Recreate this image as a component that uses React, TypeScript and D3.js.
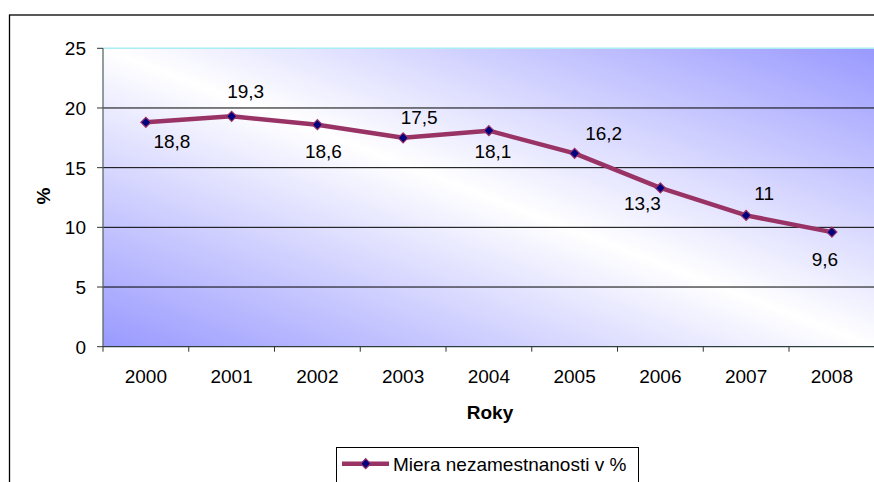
import React from "react";
import * as d3 from "d3";

const years = ["2000", "2001", "2002", "2003", "2004", "2005", "2006", "2007", "2008"];
const values = [18.8, 19.3, 18.6, 17.5, 18.1, 16.2, 13.3, 11, 9.6];
const valueLabels = ["18,8", "19,3", "18,6", "17,5", "18,1", "16,2", "13,3", "11", "9,6"];
const yTicks = [0, 5, 10, 15, 20, 25];
const seriesName = "Miera nezamestnanosti v %";
const xTitle = "Roky";
const yTitle = "%";

// layout: data-label offsets (px) relative to each point
const labelOffsets: [number, number][] = [
  [26, 19], [14, -25], [6, 26], [16, -21], [4, 21], [29, -20], [-18, 15], [18, -22], [-7, 27],
];

const W = 874;
const H = 482;
const plotLeft = 103;
const plotTop = 48.3;
const plotBottom = 346.7;
const bandW = 85.75;
const plotRight = plotLeft + bandW * years.length;
const FONT = "'Liberation Sans', Arial, Helvetica, sans-serif";
const LINE = "#993366";
const MARK = "#000080";

export default function App() {
  const x = d3.scaleBand<string>().domain(years).range([plotLeft, plotRight]).padding(0);
  const y = d3.scaleLinear().domain([0, 25]).range([plotBottom, plotTop]);
  const cx = (yr: string) => (x(yr) as number) + x.bandwidth() / 2;
  const line = d3
    .line<number>()
    .x((_, i) => cx(years[i]))
    .y((v) => y(v));
  const diamond = (px: number, py: number, r: number) =>
    `M${px},${py - r}L${px + r},${py}L${px},${py + r}L${px - r},${py}Z`;

  return (
    <svg
      width={W}
      height={H}
      style={{ position: "absolute", left: 0, top: 0, display: "block", background: "#fff" }}
      fontFamily={FONT}
    >
      <defs>
        <linearGradient id="bg" x1="0" y1="1" x2="1" y2="0">
          <stop offset="0" stopColor="#9999ff" />
          <stop offset="0.5" stopColor="#ffffff" />
          <stop offset="1" stopColor="#9999ff" />
        </linearGradient>
      </defs>
      {/* chart area border */}
      <rect x={9.5} y={15} width={W + 20} height={H + 20} fill="#fff" stroke="#000" strokeWidth={1.3} />
      {/* plot area */}
      <rect
        x={plotLeft}
        y={plotTop}
        width={plotRight - plotLeft}
        height={plotBottom - plotTop}
        fill="url(#bg)"
      />
      <line x1={plotLeft} x2={plotRight} y1={plotTop} y2={plotTop} stroke="#a8eef2" strokeWidth={1.5} />
      {/* gridlines */}
      {yTicks.filter((t) => t > 0 && t < 25).map((t) => (
        <line key={t} x1={plotLeft} x2={plotRight} y1={y(t)} y2={y(t)} stroke="#000" strokeWidth={1} />
      ))}
      {/* y axis */}
      <line x1={plotLeft} x2={plotLeft} y1={plotTop} y2={plotBottom} stroke="#5a6a6a" strokeWidth={1.3} />
      {yTicks.map((t) => (
        <g key={t}>
          <line x1={plotLeft - 6} x2={plotLeft} y1={y(t)} y2={y(t)} stroke="#333" strokeWidth={1} />
          <text x={86} y={y(t)} dy="0.36em" textAnchor="end" fontSize={19} fill="#000">
            {t}
          </text>
        </g>
      ))}
      {/* x axis */}
      <line x1={plotLeft} x2={plotRight} y1={plotBottom} y2={plotBottom} stroke="#2f3f3f" strokeWidth={1.3} />
      {years.map((yr, i) => (
        <g key={yr}>
          <line
            x1={(x(yr) as number)}
            x2={(x(yr) as number)}
            y1={plotBottom}
            y2={plotBottom + 5}
            stroke="#333"
            strokeWidth={1}
          />
          <text x={cx(yr)} y={375.7} dy="0.36em" textAnchor="middle" fontSize={19} fill="#000">
            {yr}
          </text>
        </g>
      ))}
      {/* axis titles */}
      <text x={490} y={412} dy="0.36em" textAnchor="middle" fontSize={19} fontWeight="bold">
        {xTitle}
      </text>
      <text
        transform={`translate(43,196) rotate(-90)`}
        dy="0.36em"
        textAnchor="middle"
        fontSize={19}
        fontWeight="bold"
      >
        {yTitle}
      </text>
      {/* series */}
      <path d={line(values) as string} fill="none" stroke={LINE} strokeWidth={4.5} strokeLinejoin="round" />
      {values.map((v, i) => (
        <path key={i} d={diamond(cx(years[i]), y(v), 5)} fill={MARK} stroke={LINE} strokeWidth={1.2} />
      ))}
      {values.map((v, i) => (
        <text
          key={"l" + i}
          x={cx(years[i]) + labelOffsets[i][0]}
          y={y(v) + labelOffsets[i][1]}
          dy="0.36em"
          textAnchor="middle"
          fontSize={19}
          fill="#000"
        >
          {valueLabels[i]}
        </text>
      ))}
      {/* legend */}
      <rect x={336.5} y={447.5} width={302} height={50} fill="#fff" stroke="#000" strokeWidth={1} />
      <line x1={342} x2={389} y1={463.7} y2={463.7} stroke={LINE} strokeWidth={4.5} />
      <path d={diamond(365.7, 463.7, 5)} fill={MARK} stroke={LINE} strokeWidth={1.2} />
      <text x={393} y={463.7} dy="0.36em" fontSize={19} fill="#000">
        {seriesName}
      </text>
    </svg>
  );
}
